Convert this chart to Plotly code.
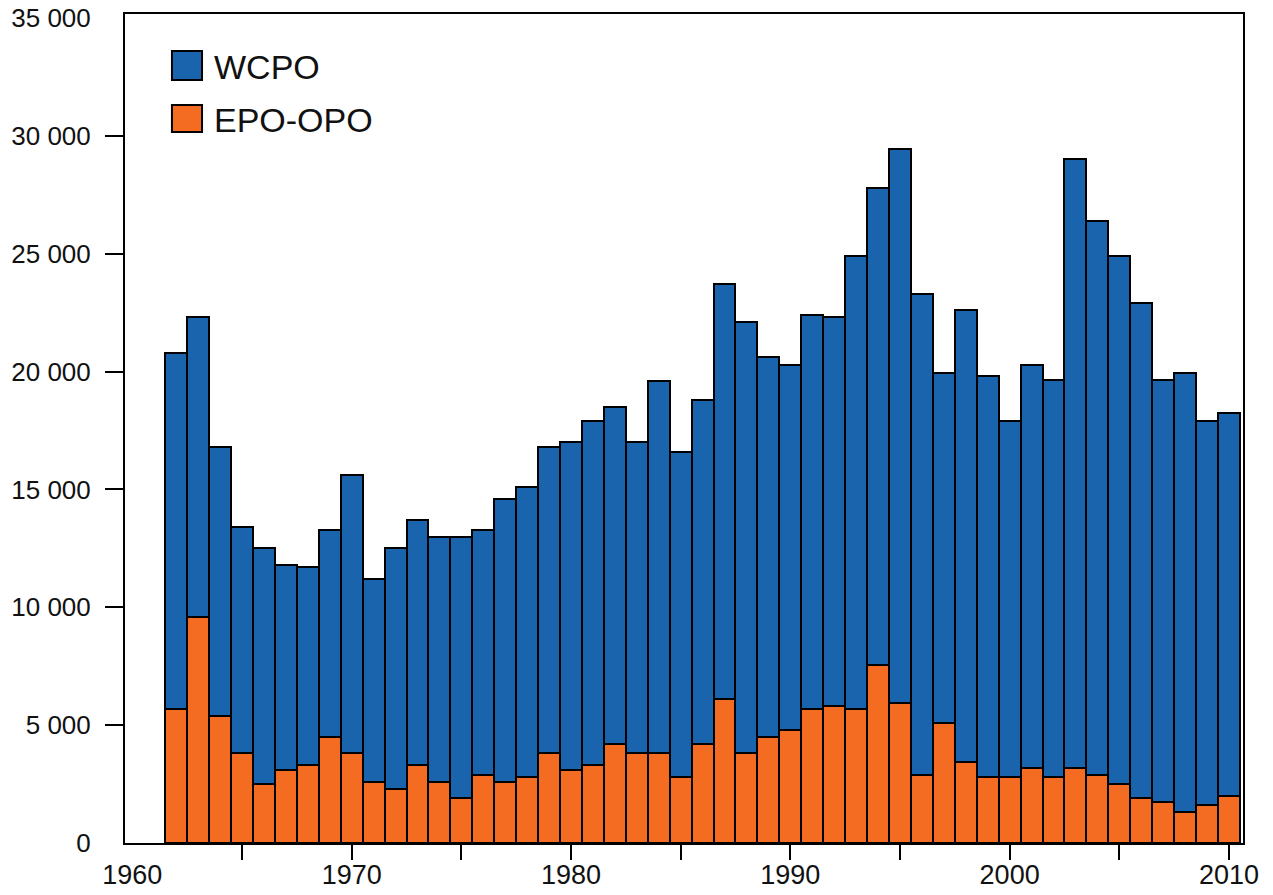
import plotly.graph_objects as go

# Annual catch by ocean region, 1962-2010
years = list(range(1962, 2011))

epo_opo = [5700, 9600, 5400, 3800, 2500, 3100, 3300, 4500, 3800, 2600,
           2300, 3300, 2600, 1900, 2900, 2600, 2800, 3800, 3100, 3300,
           4200, 3800, 3800, 2800, 4200, 6100, 3800, 4500, 4800, 5700,
           5800, 5700, 7550, 5950, 2900, 5100, 3450, 2800, 2800, 3200,
           2800, 3200, 2900, 2500, 1900, 1750, 1300, 1600, 2000]

wcpo = [15100, 12700, 11400, 9600, 10000, 8700, 8400, 8800, 11800, 8600,
        10200, 10400, 10400, 11100, 10400, 12000, 12300, 13000, 13900, 14600,
        14300, 13200, 15800, 13800, 14600, 17600, 18300, 16100, 15500, 16700,
        16500, 19200, 20250, 23500, 20400, 14850, 19150, 17000, 15100, 17100,
        16850, 25800, 23500, 22400, 21000, 17900, 18650, 16300, 16250]

y_tickvals = [0, 5000, 10000, 15000, 20000, 25000, 30000, 35000]
y_ticktext = ["0", "5 000", "10 000", "15 000", "20 000", "25 000", "30 000", "35 000"]
x_tickvals = [1960, 1970, 1980, 1990, 2000, 2010]
x_ticktext = ["1960", "1970", "1980", "1990", "2000", "2010"]

BLUE = "#1a64ae"
ORANGE = "#f36c22"
FONT = "Liberation Sans, Arial, sans-serif"

fig = go.Figure()
fig.add_trace(go.Bar(x=years, y=epo_opo, name="EPO-OPO", width=1,
                     marker=dict(color=ORANGE, line=dict(color="black", width=2))))
fig.add_trace(go.Bar(x=years, y=wcpo, name="WCPO", width=1,
                     marker=dict(color=BLUE, line=dict(color="black", width=2))))

# Legend drawn as large boxed swatches with labels
legend_items = [("WCPO", BLUE, 0.9204, 0.9554, 0.9361),
                ("EPO-OPO", ORANGE, 0.8577, 0.8902, 0.8721)]
for label, color, y0, y1, yc in legend_items:
    fig.add_shape(type="rect", xref="paper", yref="paper",
                  x0=0.0420, x1=0.0689, y0=y0, y1=y1,
                  fillcolor=color, line=dict(color="black", width=2))
    fig.add_annotation(xref="paper", yref="paper", x=0.0778, y=yc,
                       text=label, showarrow=False, xanchor="left", yanchor="middle",
                       font=dict(family=FONT, size=34, color="#111111"))

fig.update_layout(
    barmode="stack",
    width=1273, height=895,
    margin=dict(l=125, r=30, t=14, b=52, autoexpand=False),
    paper_bgcolor="white", plot_bgcolor="white",
    showlegend=False,
    font=dict(family=FONT, color="#111111"),
    bargap=0,
)

fig.update_xaxes(
    range=[1959.665, 2010.64], automargin=False,
    tickmode="array", tickvals=x_tickvals, ticktext=x_ticktext,
    ticks="outside", ticklen=7, tickcolor="rgba(0,0,0,0)",
    minor=dict(tickmode="array", tickvals=list(range(1965, 2011, 5)),
               ticks="outside", ticklen=15, tickwidth=2, tickcolor="black",
               showgrid=False),
    tickfont=dict(family=FONT, size=27, color="#111111"),
    showline=True, linecolor="black", linewidth=2, mirror=True,
    showgrid=False, zeroline=False,
)

fig.update_yaxes(
    range=[0, 35170], automargin=False,
    tickmode="array", tickvals=y_tickvals, ticktext=y_ticktext,
    ticks="outside", ticklen=18, tickcolor="rgba(0,0,0,0)",
    minor=dict(tickmode="array", tickvals=list(range(5000, 30001, 5000)),
               ticks="outside", ticklen=18, tickwidth=2, tickcolor="black",
               showgrid=False),
    ticklabelstandoff=9,
    tickfont=dict(family=FONT, size=26, color="#111111"),
    showline=True, linecolor="black", linewidth=2, mirror=True,
    showgrid=False, zeroline=False,
)

fig.write_html("out.html")
